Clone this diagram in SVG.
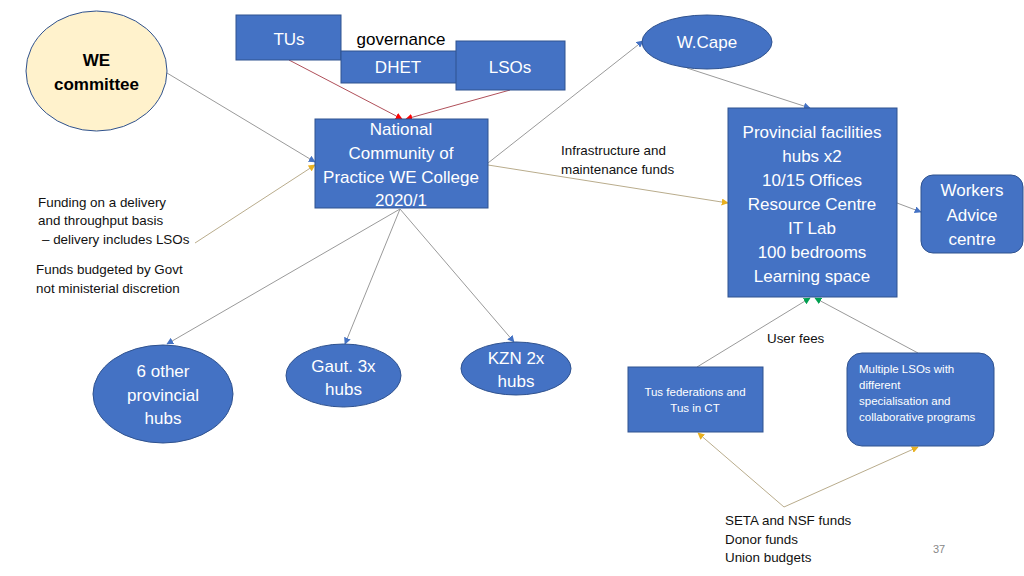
<svg xmlns="http://www.w3.org/2000/svg" width="1024" height="576" viewBox="0 0 1024 576">
<style>
text{font-family:"Liberation Sans",Arial,sans-serif}
.box{fill:#4472C4;stroke:#2F528F;stroke-width:1}
.wt{fill:#fff;font-size:17px;text-anchor:middle}
.st{fill:#fff;font-size:11.5px}
.bt{fill:#111;font-size:13.4px}
.ln{fill:none;stroke:#9A9A9A;stroke-width:1}
.lr{fill:none;stroke:#B0505A;stroke-width:1}
.ly{fill:none;stroke:#B9AC8C;stroke-width:1}
</style>
<defs>
<marker id="ab" viewBox="0 0 10 10" refX="9" refY="5" markerWidth="7" markerHeight="7" markerUnits="userSpaceOnUse" orient="auto"><path d="M0,0L10,5L0,10z" fill="#4472C4"/></marker>
<marker id="ay" viewBox="0 0 10 10" refX="9" refY="5" markerWidth="7" markerHeight="7" markerUnits="userSpaceOnUse" orient="auto"><path d="M0,0L10,5L0,10z" fill="#E8B020"/></marker>
<marker id="ar" viewBox="0 0 10 10" refX="9" refY="5" markerWidth="7" markerHeight="7" markerUnits="userSpaceOnUse" orient="auto"><path d="M0,0L10,5L0,10z" fill="#FF0000"/></marker>
<marker id="ag" viewBox="0 0 10 10" refX="9" refY="5" markerWidth="7" markerHeight="7" markerUnits="userSpaceOnUse" orient="auto"><path d="M0,0L10,5L0,10z" fill="#00A050"/></marker>
</defs>
<rect width="1024" height="576" fill="#fff"/>
<g id="connectors">
<line class="lr" x1="289" y1="60" x2="402" y2="119" marker-end="url(#ar)"/>
<line class="lr" x1="510" y1="90" x2="406" y2="119" marker-end="url(#ar)"/>
<line class="ln" x1="167" y1="73" x2="315" y2="162" marker-end="url(#ab)"/>
<line class="ly" x1="195" y1="243" x2="315" y2="165" marker-end="url(#ay)"/>
<line class="ln" x1="488" y1="163" x2="643" y2="41" marker-end="url(#ab)"/>
<line class="ly" x1="488" y1="165" x2="728" y2="203" marker-end="url(#ay)"/>
<line class="ln" x1="687" y1="68" x2="810" y2="108" marker-end="url(#ab)"/>
<line class="ln" x1="897" y1="203" x2="921" y2="212" marker-end="url(#ab)"/>
<line class="ln" x1="400" y1="209" x2="167" y2="344" marker-end="url(#ab)"/>
<line class="ln" x1="400" y1="209" x2="345" y2="344" marker-end="url(#ab)"/>
<line class="ln" x1="400" y1="209" x2="514" y2="342" marker-end="url(#ab)"/>
<line class="ln" x1="697" y1="367" x2="810" y2="298" marker-end="url(#ag)"/>
<line class="ln" x1="918" y1="353" x2="815" y2="298" marker-end="url(#ag)"/>
<line class="ly" x1="784" y1="507" x2="698" y2="433" marker-end="url(#ay)"/>
<line class="ly" x1="784" y1="507" x2="918" y2="447" marker-end="url(#ay)"/>
</g>
<g id="we-committee">
<ellipse cx="96.5" cy="71" rx="70.5" ry="60" fill="#FFF2CC" stroke="#2F528F" stroke-width="1"/>
<text x="96.5" y="66" text-anchor="middle" font-size="17" font-weight="bold" fill="#000">WE</text>
<text x="96.5" y="90" text-anchor="middle" font-size="17" font-weight="bold" fill="#000">committee</text>
</g>
<g id="tus">
<rect class="box" x="236" y="15" width="105" height="45"/>
<text class="wt" x="289" y="45">TUs</text>
</g>
<g id="dhet">
<rect class="box" x="341" y="51" width="116" height="32"/>
<text class="wt" x="398" y="73">DHET</text>
</g>
<g id="lsos">
<rect class="box" x="456" y="41" width="109" height="49"/>
<text class="wt" x="510" y="73">LSOs</text>
</g>
<g id="governance-label">
<text x="401" y="45" text-anchor="middle" font-size="17" fill="#000">governance</text>
</g>
<g id="national">
<rect class="box" x="315" y="119" width="173" height="89"/>
<text class="wt" x="401" y="135">National</text>
<text class="wt" x="401" y="159">Community of</text>
<text class="wt" x="401" y="183">Practice WE College</text>
<text class="wt" x="401" y="206">2020/1</text>
</g>
<g id="funding-label">
<text class="bt" x="38" y="207">Funding on a delivery</text>
<text class="bt" x="38" y="225">and throughput basis</text>
<text class="bt" x="42" y="244">– delivery includes LSOs</text>
<text class="bt" x="36" y="274">Funds budgeted by Govt</text>
<text class="bt" x="36" y="293">not ministerial discretion</text>
</g>
<g id="wcape">
<ellipse class="box" cx="707" cy="42" rx="65" ry="27"/>
<text class="wt" x="707" y="48">W.Cape</text>
</g>
<g id="infra-label">
<text class="bt" x="561" y="155">Infrastructure and</text>
<text class="bt" x="561" y="174">maintenance funds</text>
</g>
<g id="provincial">
<rect class="box" x="728" y="108" width="169" height="189"/>
<text class="wt" x="812" y="138">Provincial facilities</text>
<text class="wt" x="812" y="162">hubs x2</text>
<text class="wt" x="812" y="186">10/15 Offices</text>
<text class="wt" x="812" y="210">Resource Centre</text>
<text class="wt" x="812" y="234">IT Lab</text>
<text class="wt" x="812" y="258">100 bedrooms</text>
<text class="wt" x="812" y="282">Learning space</text>
</g>
<g id="workers">
<rect class="box" x="921" y="175" width="102" height="78" rx="12"/>
<text class="wt" x="972" y="196">Workers</text>
<text class="wt" x="972" y="221">Advice</text>
<text class="wt" x="972" y="245">centre</text>
</g>
<g id="other-hubs">
<ellipse class="box" cx="163" cy="394" rx="70" ry="49"/>
<text class="wt" x="163" y="377">6 other</text>
<text class="wt" x="163" y="401">provincial</text>
<text class="wt" x="163" y="424">hubs</text>
</g>
<g id="gaut">
<ellipse class="box" cx="343.5" cy="375.5" rx="57.5" ry="31.5"/>
<text class="wt" x="343.5" y="372">Gaut. 3x</text>
<text class="wt" x="343.5" y="395">hubs</text>
</g>
<g id="kzn">
<ellipse class="box" cx="516" cy="368.5" rx="55" ry="26.5"/>
<text class="wt" x="516" y="364">KZN 2x</text>
<text class="wt" x="516" y="387">hubs</text>
</g>
<g id="user-fees-label">
<text class="bt" x="767" y="343">User fees</text>
</g>
<g id="tus-federations">
<rect class="box" x="628" y="367" width="135" height="65"/>
<text class="st" x="695" y="396" text-anchor="middle">Tus federations and</text>
<text class="st" x="695" y="412" text-anchor="middle">Tus in CT</text>
</g>
<g id="multiple-lsos">
<rect class="box" x="847" y="353" width="147" height="93" rx="15"/>
<text class="st" x="859" y="373">Multiple LSOs with</text>
<text class="st" x="859" y="389">different</text>
<text class="st" x="859" y="405">specialisation and</text>
<text class="st" x="859" y="421">collaborative programs</text>
</g>
<g id="seta-label">
<text class="bt" x="725" y="525">SETA and NSF funds</text>
<text class="bt" x="725" y="544">Donor funds</text>
<text class="bt" x="725" y="562">Union budgets</text>
</g>
<g id="page-number">
<text x="933" y="553" font-size="11" fill="#888">37</text>
</g>
</svg>
